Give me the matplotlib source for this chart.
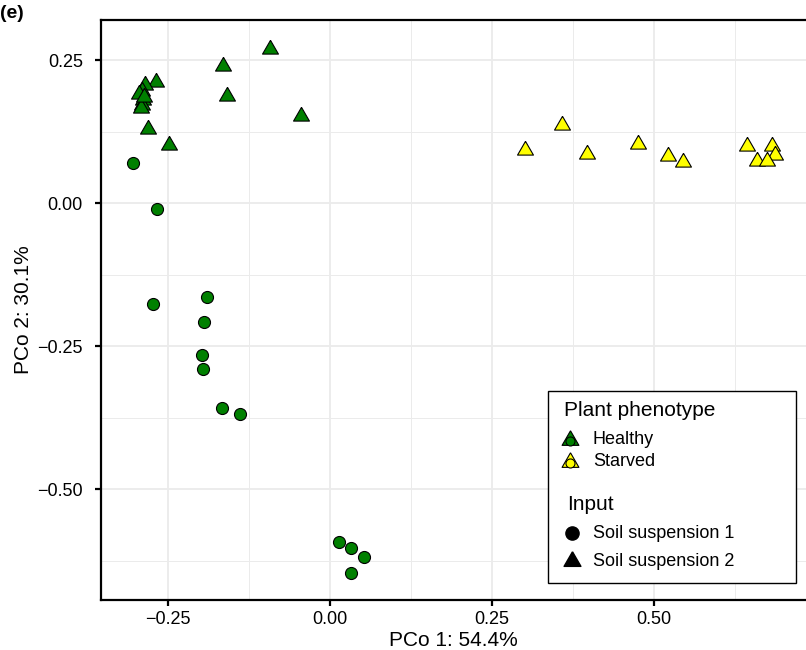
import numpy as np
import matplotlib
matplotlib.use("Agg")
import matplotlib.pyplot as plt
from matplotlib.lines import Line2D
from matplotlib.patches import Rectangle
from matplotlib.ticker import MultipleLocator, FuncFormatter

plt.rcParams['font.family'] = ['Liberation Sans', 'DejaVu Sans']

# healthy, soil suspension 1 (circles)
h1_x = [-0.304, -0.267, -0.273, -0.190, -0.194, -0.198, -0.196, -0.166, -0.139,
        0.014, 0.033, 0.052, 0.033]
h1_y = [0.070, -0.011, -0.177, -0.165, -0.208, -0.266, -0.290, -0.359, -0.369,
        -0.593, -0.603, -0.619, -0.647]

# healthy, soil suspension 2 (triangles)
h2_x = [-0.093, -0.165, -0.159, -0.045, -0.269, -0.285, -0.290, -0.294, -0.288,
        -0.290, -0.291, -0.287, -0.281, -0.248]
h2_y = [0.269, 0.239, 0.187, 0.152, 0.211, 0.206, 0.196, 0.191, 0.181,
        0.171, 0.166, 0.186, 0.129, 0.101]

# starved, soil suspension 2 (triangles)
s2_x = [0.301, 0.358, 0.396, 0.475, 0.521, 0.545, 0.643, 0.682, 0.687, 0.659, 0.675]
s2_y = [0.093, 0.137, 0.086, 0.103, 0.082, 0.072, 0.099, 0.100, 0.084, 0.073, 0.073]

green = '#008000'
yellow = '#FFFF00'
W, H = 806, 650

tri = [(0, 1.1547), (-1, -0.5774), (1, -0.5774), (0, 1.1547)]

fig = plt.figure(figsize=(W / 100, H / 100), dpi=100)
ax = fig.add_axes([101 / W, 50 / H, (W - 101) / W, 580 / H])
ax.set_xlim(-0.3534, 0.7346)
ax.set_ylim(-0.694, 0.32)

ax.xaxis.set_major_locator(MultipleLocator(0.25))
ax.xaxis.set_minor_locator(MultipleLocator(0.125))
ax.yaxis.set_major_locator(MultipleLocator(0.25))
ax.yaxis.set_minor_locator(MultipleLocator(0.125))
fmt = FuncFormatter(lambda v, p: ('%.2f' % v).replace('-', '\u2212'))
ax.xaxis.set_major_formatter(fmt)
ax.yaxis.set_major_formatter(fmt)
ax.grid(which='major', color='#EBEBEB', lw=1.3)
ax.grid(which='minor', color='#EBEBEB', lw=0.7)
ax.set_axisbelow(True)

for s in ['left', 'bottom', 'top']:
    ax.spines[s].set_linewidth(1.6)
ax.spines['right'].set_visible(False)
ax.tick_params(which='major', length=4, width=1.6, labelsize=13, colors='black')
ax.tick_params(axis='y', which='major', pad=9)
ax.tick_params(axis='x', which='major', pad=4)
ax.tick_params(which='minor', length=0)

ax.scatter(h1_x, h1_y, s=75, marker='o', c=green, edgecolors='black', linewidths=0.8, zorder=3)
ax.scatter(h2_x, h2_y, s=175, marker=tri, c=green, edgecolors='black', linewidths=0.8, zorder=3)
ax.scatter(s2_x, s2_y, s=175, marker=tri, c=yellow, edgecolors='black', linewidths=0.8, zorder=3)

ax.set_xlabel('PCo 1: 54.4%', fontsize=15, labelpad=2)
ax.set_ylabel('PCo 2: 30.1%', fontsize=15, labelpad=3)

fig.text(0 / W, 1 - 13 / H, '(e)', fontsize=14, fontweight='bold', va='center', ha='left')

# legend drawn by hand in pixel positions
def fx(x):
    return x / W

def fy(y):
    return 1 - y / H

fig.add_artist(Rectangle((fx(548), fy(583)), fx(796) - fx(548), fy(391) - fy(583),
                         transform=fig.transFigure, fill=True, facecolor='white',
                         edgecolor='black', lw=1.0, zorder=5))
fig.text(fx(564), fy(410), 'Plant phenotype', fontsize=15, va='center', ha='left', zorder=6)
for yy, col, lab in [(440, green, 'Healthy'), (462, yellow, 'Starved')]:
    fig.add_artist(Line2D([fx(570)], [fy(yy)], marker=tri, ms=14, mfc=col, mec='black',
                          mew=0.8, ls='none', transform=fig.transFigure, zorder=6))
    fig.add_artist(Line2D([fx(570)], [fy(yy + 1)], marker='o', ms=6.5, mfc=col, mec='black',
                          mew=0.8, ls='none', transform=fig.transFigure, zorder=7))
    fig.text(fx(593), fy(yy), lab, fontsize=13, va='center', ha='left', zorder=6)
fig.text(fx(567), fy(504), 'Input', fontsize=15, va='center', ha='left', zorder=6)
for yy, mk, ms, lab in [(533, 'o', 9.5, 'Soil suspension 1'), (561, tri, 14, 'Soil suspension 2')]:
    fig.add_artist(Line2D([fx(572)], [fy(yy)], marker=mk, ms=ms, mfc='black', mec='black',
                          ls='none', transform=fig.transFigure, zorder=6))
    fig.text(fx(593), fy(yy), lab, fontsize=13, va='center', ha='left', zorder=6)

fig.savefig('out.png', dpi=100)
